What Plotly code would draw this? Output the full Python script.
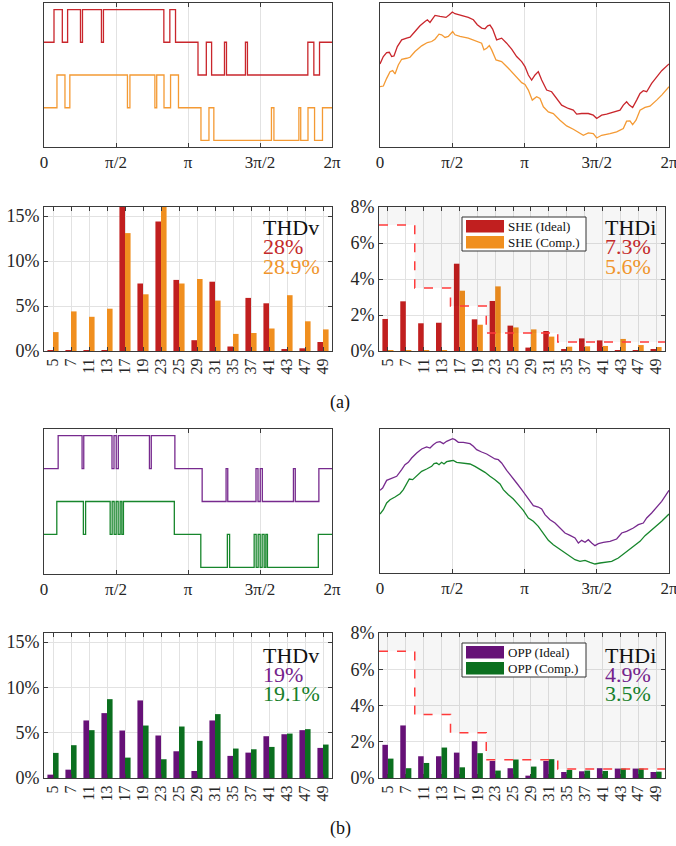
import plotly.graph_objects as go

W, H = 676, 846

# ---------------- data ----------------
harmonics = [5, 7, 11, 13, 17, 19, 23, 25, 29, 31, 35, 37, 41, 43, 47, 49]

she_ideal_v = [0.1, 0.1, 0.1, 0.1, 16.6, 7.5, 14.4, 7.9, 1.2, 7.7, 0.5, 5.9, 5.3, 0.2, 0.3, 1.0]
she_comp_v = [2.1, 4.4, 3.8, 4.7, 13.1, 6.3, 16.2, 7.5, 8.0, 5.6, 1.9, 2.0, 2.5, 6.2, 3.3, 2.4]
she_ideal_i = [1.78, 2.76, 1.54, 1.57, 4.85, 1.76, 2.78, 1.41, 0.19, 1.11, 0.09, 0.70, 0.59, 0.05, 0.05, 0.11]
she_comp_i = [0.05, 0.05, 0.05, 0.05, 3.35, 1.46, 3.59, 1.31, 1.20, 0.80, 0.24, 0.26, 0.28, 0.67, 0.33, 0.22]
opp_ideal_v = [0.37, 0.92, 6.35, 7.16, 5.24, 8.56, 4.69, 2.95, 0.77, 6.35, 2.44, 2.80, 4.61, 4.83, 5.28, 3.32]
opp_comp_v = [2.77, 3.62, 5.28, 8.70, 2.25, 5.79, 2.07, 5.68, 4.10, 7.05, 3.25, 3.17, 3.43, 4.90, 5.39, 3.69]
opp_ideal_i = [1.83, 2.90, 1.20, 1.20, 1.40, 2.03, 0.94, 0.54, 0.13, 0.94, 0.33, 0.37, 0.54, 0.52, 0.52, 0.33]
opp_comp_i = [1.07, 0.54, 0.83, 1.68, 0.59, 1.37, 0.41, 1.02, 0.63, 1.04, 0.44, 0.41, 0.39, 0.52, 0.52, 0.35]
current_limit = [7, 7, 3.5, 3.5, 2.5, 2.5, 1, 1, 1, 1, 0.5, 0.5, 0.5, 0.5, 0.5, 0.5]

thd = {
    "she_v": ("28%", "28.9%"),
    "she_i": ("7.3%", "5.6%"),
    "opp_v": ("19%", "19.1%"),
    "opp_i": ("4.9%", "3.5%"),
}

# switching angles (degrees) of the first half period; half-wave symmetric
she_ideal_angles = [12.5, 22.9, 29.5, 45.6, 48.1, 71.8, 74.3, 149.8, 157.3, 164.4]
she_comp_angles = [16.2, 26.2, 32.3, 104.3, 107.4, 138.6, 140.9, 150.0, 158.2, 168.1]
opp_ideal_angles = [17.7, 47.6, 49.7, 85.0, 87.5, 90.3, 92.9, 131.8, 134.1, 163.6]
opp_comp_angles = [16.0, 49.2, 52.0, 82.7, 85.2, 87.7, 90.2, 92.7, 95.2, 97.3, 99.3, 162.9]

# phase currents (angle in degrees, arbitrary units)
she_ideal_cur_x = [0, 4.15, 8.3, 11.6, 14.5, 17.4, 21.6, 27.0, 33.2, 37.4, 43.6, 49.8, 56.1, 59.0, 62.3, 68.5, 74.7,
                   82.2, 86.4, 90.1, 93.4, 101.7, 110.0, 116.3, 121.2, 126.6, 130.8, 134.1, 137.0, 140.3, 145.3,
                   151.5, 157.8, 164.0, 170.2, 176.5, 180.6, 184.8, 188.9, 193.1, 197.2, 201.4, 207.6, 213.8,
                   220.1, 226.3, 234.6, 240.8, 245.0, 251.2, 259.5, 265.7, 269.9, 276.1, 282.3, 290.6, 299.0,
                   303.1, 307.2, 310.6, 314.7, 319.7, 323.9, 328.0, 332.2, 338.4, 344.6, 350.9, 360]
she_ideal_cur_y = [24.8, 27.0, 28.2, 28.3, 27.0, 27.2, 30.0, 32.0, 32.5, 32.8, 34.5, 36.2, 37.5, 38.0, 37.2, 39.3, 39.0,
                   38.7, 39.5, 40.3, 39.8, 39.2, 38.7, 38.0, 36.5, 35.5, 35.3, 36.2, 36.4, 35.2, 32.0,
                   32.5, 31.0, 29.2, 27.0, 25.5, 24.0, 21.5, 20.0, 21.5, 22.5, 20.0, 17.0, 16.5,
                   14.5, 12.5, 11.5, 11.0, 9.8, 10.0, 10.0, 9.5, 8.5, 9.5, 9.8, 10.3, 11.0,
                   12.5, 13.5, 12.5, 11.8, 14.0, 16.0, 16.8, 16.5, 19.0, 21.0, 22.8, 24.8]
she_comp_cur_x = [0, 4.2, 8.3, 12.5, 15.8, 18.7, 22.8, 27.0, 33.2, 37.4, 43.6, 51.9, 59.0, 64.4, 68.5, 73.5, 76.8,
                  81.0, 85.1, 90.5, 93.4, 99.6, 110.0, 116.3, 122.5, 126.6, 129.5, 132.9, 136.2, 139.1, 144.5,
                  151.5, 159.9, 168.2, 176.5, 180.6, 184.8, 189.7, 195.1, 199.3, 203.5, 209.7, 215.9, 224.2,
                  232.5, 240.8, 247.1, 253.3, 259.5, 265.7, 269.9, 276.1, 286.5, 294.8, 303.1, 307.2, 311.4,
                  314.7, 318.9, 323.9, 330.1, 336.3, 344.6, 350.9, 360]
she_comp_cur_y = [18.0, 18.2, 20.5, 22.5, 22.8, 21.8, 24.5, 26.2, 26.5, 26.8, 28.5, 30.2, 31.2, 31.5, 32.2, 33.7, 33.5,
                  32.7, 33.0, 34.5, 33.5, 33.0, 32.5, 32.0, 31.5, 31.0, 29.0, 29.5, 30.3, 29.0, 26.0,
                  25.5, 23.5, 21.2, 19.2, 18.7, 17.0, 14.0, 15.0, 14.5, 12.0, 10.5, 10.0, 8.0,
                  6.3, 5.3, 4.5, 3.5, 4.2, 4.0, 2.7, 3.5, 4.0, 4.5, 5.5, 7.7, 7.8,
                  6.7, 8.0, 11.0, 11.8, 12.2, 14.0, 15.5, 18.0]
opp_ideal_cur_x = [0, 3.3, 8.3, 12.5, 16.6, 20.8, 27.0, 31.1, 35.3, 39.4, 45.7, 51.9, 58.1, 62.3, 66.4, 70.6, 74.7,
                   78.9, 83.0, 87.2, 90.5, 93.4, 97.6, 103.8, 112.1, 116.3, 120.4, 126.6, 132.9, 139.1, 143.2,
                   147.4, 151.5, 157.8, 164.0, 170.2, 176.5, 182.7, 186.8, 191.0, 197.2, 201.4, 205.5, 211.8,
                   218.0, 224.2, 230.4, 236.7, 242.9, 247.1, 251.2, 255.4, 259.5, 263.7, 267.8, 272.0, 278.2,
                   286.5, 294.8, 301.1, 307.2, 315.6, 321.8, 328.0, 332.2, 338.4, 344.6, 350.9, 360]
opp_ideal_cur_y = [24.8, 25.5, 27.8, 28.2, 28.8, 29.0, 31.0, 32.5, 33.2, 34.5, 36.0, 37.2, 37.8, 37.5, 38.5, 39.2, 39.4,
                   38.8, 39.5, 40.0, 40.3, 40.0, 39.2, 39.2, 38.8, 38.0, 37.0, 36.3, 35.7, 34.8, 34.2,
                   34.0, 33.0, 30.8, 29.0, 27.0, 25.0, 23.0, 21.5, 20.2, 19.8, 19.2, 17.5, 16.0,
                   15.0, 13.5, 12.0, 11.3, 10.5, 9.0, 9.8, 9.2, 10.0, 9.0, 8.2, 8.8, 9.2,
                   9.5, 10.2, 12.0, 12.5, 13.5, 14.5, 15.0, 16.5, 18.0, 19.8, 21.5, 24.8]
opp_comp_cur_x = [0, 4.2, 8.3, 12.5, 18.7, 24.9, 29.1, 33.2, 36.5, 40.7, 45.7, 51.9, 58.1, 64.4, 67.3, 70.6, 73.5,
                  76.8, 79.7, 83.0, 87.2, 91.3, 95.5, 103.8, 112.1, 118.3, 124.6, 130.8, 137.0, 143.2, 149.5,
                  153.6, 159.9, 166.1, 172.3, 178.5, 184.8, 191.0, 197.2, 203.5, 209.7, 215.9, 222.1, 228.4,
                  236.7, 242.9, 249.1, 255.4, 261.6, 267.8, 274.0, 280.3, 288.6, 296.9, 305.2, 311.4, 317.6,
                  323.9, 330.1, 336.3, 344.6, 350.9, 360]
opp_comp_cur_y = [17.7, 19.0, 21.0, 22.0, 22.8, 23.8, 25.0, 27.0, 28.2, 28.0, 29.0, 30.5, 31.2, 32.0, 32.8, 33.0, 32.5,
                  33.2, 32.7, 33.4, 33.6, 33.8, 33.2, 33.0, 32.7, 32.0, 31.2, 30.2, 29.0, 28.0, 26.7,
                  25.0, 23.5, 22.2, 20.5, 18.8, 16.5, 15.5, 14.0, 12.0, 9.8, 8.5, 7.5, 6.3,
                  5.2, 4.0, 3.5, 3.8, 3.2, 2.7, 3.0, 3.2, 3.5, 4.5, 6.0, 7.0, 8.2,
                  9.5, 11.2, 12.5, 14.0, 15.5, 17.7]

angle_ticks = [0, 90, 180, 270, 360]
angle_labels = ["0", "π/2", "π", "3π/2", "2π"]
v_ticks = [0, 5, 10, 15]
i_ticks = [0, 2, 4, 6, 8]

# ---------------- style ----------------
RED, ORANGE = "#c11f1f", "#f08f1f"
PURPLE, GREEN = "#661177", "#0b6f1f"
RED_L, ORANGE_L = "#c9262c", "#f49a34"
PURPLE_L, GREEN_L = "#772a8e", "#17862c"
RED_T, ORANGE_T = "#c42a2a", "#f0952c"
PURPLE_T, GREEN_T = "#74238c", "#17802a"
AX = "#3a3a3a"
GRID = "#e2e2e2"
FONT = "Liberation Serif"


def dx(a, b):
    return [a / W, b / W]


def dy(a, b):
    return [1 - b / H, 1 - a / H]


def pwm_wave(angles, offset):
    xs, ys = [0.0], [offset]
    for start, sign in ((0, 1), (180, -1)):
        lvl = 0
        for a in angles:
            lvl = 1 - lvl
            xs.append(start + a)
            ys.append(offset + sign * lvl)
    xs.append(360)
    ys.append(offset)
    return xs, ys


def step_limit(lims):
    xs, ys = [], []
    for k, v in enumerate(lims):
        xs += [k - 0.5, k + 0.5]
        ys += [v, v]
    return xs, ys


fig = go.Figure()

panels = {
    1: dict(x=dx(44, 332), y=dy(3, 147)),
    2: dict(x=dx(380, 669), y=dy(3, 147)),
    3: dict(x=dx(44, 332), y=dy(207, 351)),
    4: dict(x=dx(379, 665), y=dy(207, 351)),
    5: dict(x=dx(44, 332), y=dy(429, 574)),
    6: dict(x=dx(380, 669), y=dy(429, 573)),
    7: dict(x=dx(44, 332), y=dy(633, 778)),
    8: dict(x=dx(379, 665), y=dy(633, 778)),
}


def ax_names(n):
    return ("x" if n == 1 else f"x{n}"), ("y" if n == 1 else f"y{n}")


# --- switching waveforms ---
for n, (a_up, c_up, a_lo, c_lo) in {
    1: (she_ideal_angles, RED_L, she_comp_angles, ORANGE_L),
    5: (opp_ideal_angles, PURPLE_L, opp_comp_angles, GREEN_L),
}.items():
    xa, ya = ax_names(n)
    for ang, col, off in ((a_up, c_up, 2), (a_lo, c_lo, 0)):
        xs, ys = pwm_wave(ang, off)
        fig.add_trace(go.Scatter(x=xs, y=ys, mode="lines", line=dict(color=col, width=1.3, shape="hv"),
                                 xaxis=xa, yaxis=ya, showlegend=False, hoverinfo="skip"))

# --- currents ---
for n, series in {
    2: ((she_ideal_cur_x, she_ideal_cur_y, RED_L), (she_comp_cur_x, she_comp_cur_y, ORANGE_L)),
    6: ((opp_ideal_cur_x, opp_ideal_cur_y, PURPLE_L), (opp_comp_cur_x, opp_comp_cur_y, GREEN_L)),
}.items():
    xa, ya = ax_names(n)
    for xs, ys, col in series:
        fig.add_trace(go.Scatter(x=xs, y=ys, mode="lines", line=dict(color=col, width=1.3),
                                 xaxis=xa, yaxis=ya, showlegend=False, hoverinfo="skip"))

idx = list(range(len(harmonics)))

# --- limit shading in current spectra ---
for n in (4, 8):
    xa, ya = ax_names(n)
    sx, sy = step_limit(current_limit)
    fig.add_trace(go.Scatter(x=sx + [sx[-1], sx[0]], y=sy + [8, 8], fill="toself",
                             fillcolor="rgba(0,0,0,0.035)", line=dict(width=0), mode="lines",
                             xaxis=xa, yaxis=ya, showlegend=False, hoverinfo="skip"))

# --- bars ---
for n, (a, ca, b, cb, na, nb) in {
    3: (she_ideal_v, RED, she_comp_v, ORANGE, "SHE (Ideal)", "SHE (Comp.)"),
    4: (she_ideal_i, RED, she_comp_i, ORANGE, "SHE (Ideal)", "SHE (Comp.)"),
    7: (opp_ideal_v, PURPLE, opp_comp_v, GREEN, "OPP (Ideal)", "OPP (Comp.)"),
    8: (opp_ideal_i, PURPLE, opp_comp_i, GREEN, "OPP (Ideal)", "OPP (Comp.)"),
}.items():
    xa, ya = ax_names(n)
    fig.add_trace(go.Bar(x=idx, y=a, marker=dict(color=ca, line=dict(width=0)), name=na,
                         xaxis=xa, yaxis=ya, showlegend=False))
    fig.add_trace(go.Bar(x=idx, y=b, marker=dict(color=cb, line=dict(width=0)), name=nb,
                         xaxis=xa, yaxis=ya, showlegend=False))

# --- limit line ---
for n in (4, 8):
    xa, ya = ax_names(n)
    sx, sy = step_limit(current_limit)
    fig.add_trace(go.Scatter(x=sx, y=sy, mode="lines", line=dict(color="#ff3b3b", width=1.5, dash="dash"),
                             xaxis=xa, yaxis=ya, showlegend=False, hoverinfo="skip"))

# ---------------- axes ----------------
common = dict(showline=True, linecolor=AX, linewidth=1, mirror="allticks", ticks="inside",
              ticklen=4, tickcolor=AX, zeroline=False, gridcolor=GRID, gridwidth=1, automargin=False)

layout_axes = {}
for n, p in panels.items():
    xa, ya = ax_names(n)
    xk = "xaxis" if n == 1 else f"xaxis{n}"
    yk = "yaxis" if n == 1 else f"yaxis{n}"
    if n in (1, 2, 5, 6):
        yr = [-1.2, 3.2] if n in (1, 5) else ([0, 43] if n == 2 else [0, 43.2])
        layout_axes[xk] = dict(common, domain=p["x"], anchor=ya, range=[0, 360], tickvals=angle_ticks,
                               ticktext=angle_labels, showgrid=True, ticklabeloverflow="allow",
                               tickfont=dict(family=FONT, size=17, color="#262626"))
        layout_axes[yk] = dict(common, domain=p["y"], anchor=xa, range=yr, showgrid=False,
                               ticks="", showticklabels=False, mirror=True)
    else:
        vt = v_ticks if n in (3, 7) else i_ticks
        yr = [0, 16] if n in (3, 7) else [0, 8]
        layout_axes[xk] = dict(common, domain=p["x"], anchor=ya, range=[-0.5, len(harmonics) - 0.5],
                               tickvals=idx, ticktext=[str(h) for h in harmonics], tickangle=-90,
                               showgrid=True, tickfont=dict(family=FONT, size=16, color="#262626"))
        layout_axes[yk] = dict(common, domain=p["y"], anchor=xa, range=yr, tickvals=vt,
                               ticktext=[f"{v}%" for v in vt], showgrid=True,
                               tickfont=dict(family=FONT, size=18, color="#262626"))

fig.update_layout(**layout_axes)

# ---------------- annotations ----------------
ann = []


def txt(x, y, s, color, size, xanchor="left"):
    ann.append(dict(x=x / W, y=1 - y / H, xref="paper", yref="paper", text=s, showarrow=False,
                    xanchor=xanchor, yanchor="middle", font=dict(family=FONT, size=size, color=color)))


for (x0, y0, key, c1, c2, lab) in [
    (261, 228, "she_v", RED_T, ORANGE_T, "THDv"),
    (603, 228, "she_i", RED_T, ORANGE_T, "THDi"),
    (261, 655, "opp_v", PURPLE_T, GREEN_T, "THDv"),
    (603, 655, "opp_i", PURPLE_T, GREEN_T, "THDi"),
]:
    txt(x0, y0, lab, "#111111", 22)
    txt(x0, y0 + 19, thd[key][0], c1, 22)
    txt(x0, y0 + 38, thd[key][1], c2, 22)

txt(340, 403, "(a)", "#111111", 18, "center")
txt(340, 828, "(b)", "#111111", 18, "center")

shapes = []
for (top, c1, c2, n1, n2) in [
    (217, RED, ORANGE, "SHE (Ideal)", "SHE (Comp.)"),
    (643, PURPLE, GREEN, "OPP (Ideal)", "OPP (Comp.)"),
]:
    shapes.append(dict(type="rect", xref="paper", yref="paper", x0=462 / W, x1=586 / W,
                       y0=1 - (top + 34) / H, y1=1 - top / H, line=dict(color="#333333", width=1),
                       fillcolor="white"))
    for k, c in enumerate((c1, c2)):
        yt = top + 3 + k * 16
        shapes.append(dict(type="rect", xref="paper", yref="paper", x0=466 / W, x1=504 / W,
                           y0=1 - (yt + 12.5) / H, y1=1 - yt / H, line=dict(width=0), fillcolor=c))
    txt(506, top + 9, n1, "#111111", 13)
    txt(506, top + 25, n2, "#111111", 13)

fig.update_layout(
    width=W, height=H, margin=dict(l=0, r=0, t=0, b=0),
    paper_bgcolor="white", plot_bgcolor="white",
    barmode="group", bargap=0.38, bargroupgap=0,
    font=dict(family=FONT, color="#262626"),
    annotations=ann, shapes=shapes, showlegend=False,
)

fig.write_html(
    "out.html",
    config={"displayModeBar": False},
    post_script="document.body.style.margin='0';document.body.style.overflow='hidden';",
)
